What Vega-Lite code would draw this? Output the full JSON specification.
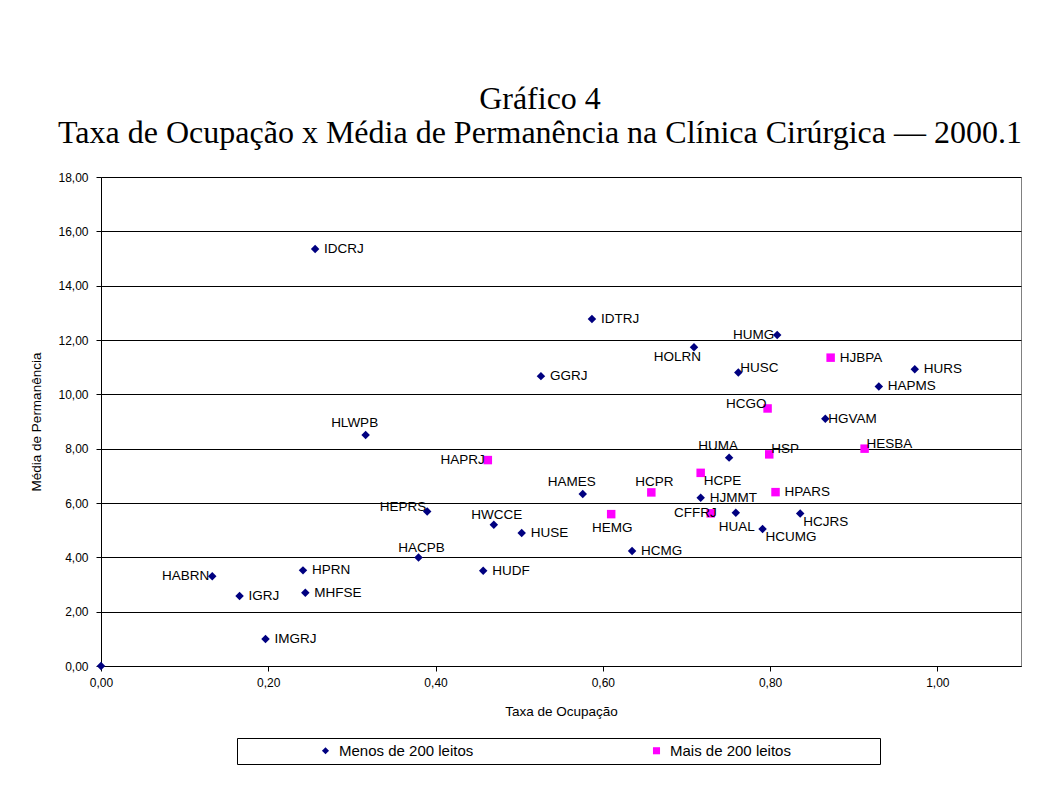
{
  "$schema": "https://vega.github.io/schema/vega-lite/v6.json",
  "autosize": {"type": "none"},
  "width": 920,
  "height": 489,
  "padding": {"left": 101, "top": 177, "right": 42, "bottom": 132},
  "background": "white",
  "config": {
    "view": {"stroke": "#808080", "strokeWidth": 1},
    "font": "Liberation Sans",
    "axis": {"labelFont": "Liberation Sans", "titleFont": "Liberation Sans", "labelColor": "black", "titleColor": "black", "domainColor": "black", "tickColor": "black", "labelFontSize": 12, "titleFontSize": 13.5, "titleFontWeight": "normal", "tickSize": 5, "labelFlush": false}
  },
  "title": {
    "text": ["Gráfico 4", "Taxa de Ocupação x Média de Permanência na Clínica Cirúrgica — 2000.1"],
    "font": "Liberation Serif",
    "fontSize": 32,
    "fontWeight": "normal",
    "color": "black",
    "anchor": "middle",
    "dx": -21,
    "offset": 21,
    "lineHeight": 34
  },
  "data": {
    "values": [
      {"nome": "", "taxa": 0.0, "media": 0.0, "grupo": "Menos de 200 leitos"},
      {"nome": "IDCRJ", "taxa": 0.256, "media": 15.35, "grupo": "Menos de 200 leitos"},
      {"nome": "IDTRJ", "taxa": 0.587, "media": 12.77, "grupo": "Menos de 200 leitos"},
      {"nome": "HOLRN", "taxa": 0.709, "media": 11.73, "grupo": "Menos de 200 leitos"},
      {"nome": "GGRJ", "taxa": 0.526, "media": 10.67, "grupo": "Menos de 200 leitos"},
      {"nome": "HUMG", "taxa": 0.8085, "media": 12.18, "grupo": "Menos de 200 leitos"},
      {"nome": "HUSC", "taxa": 0.762, "media": 10.8, "grupo": "Menos de 200 leitos"},
      {"nome": "HURS", "taxa": 0.973, "media": 10.92, "grupo": "Menos de 200 leitos"},
      {"nome": "HAPMS", "taxa": 0.93, "media": 10.29, "grupo": "Menos de 200 leitos"},
      {"nome": "HGVAM", "taxa": 0.866, "media": 9.1, "grupo": "Menos de 200 leitos"},
      {"nome": "HUMA", "taxa": 0.751, "media": 7.67, "grupo": "Menos de 200 leitos"},
      {"nome": "HJMMT", "taxa": 0.717, "media": 6.19, "grupo": "Menos de 200 leitos"},
      {"nome": "HUAL", "taxa": 0.759, "media": 5.64, "grupo": "Menos de 200 leitos"},
      {"nome": "HCJRS", "taxa": 0.836, "media": 5.61, "grupo": "Menos de 200 leitos"},
      {"nome": "HCUMG", "taxa": 0.791, "media": 5.04, "grupo": "Menos de 200 leitos"},
      {"nome": "HLWPB", "taxa": 0.3164, "media": 8.5, "grupo": "Menos de 200 leitos"},
      {"nome": "HEPRS", "taxa": 0.39, "media": 5.69, "grupo": "Menos de 200 leitos"},
      {"nome": "HWCCE", "taxa": 0.4697, "media": 5.2, "grupo": "Menos de 200 leitos"},
      {"nome": "HUSE", "taxa": 0.503, "media": 4.9, "grupo": "Menos de 200 leitos"},
      {"nome": "HACPB", "taxa": 0.3796, "media": 3.99, "grupo": "Menos de 200 leitos"},
      {"nome": "HUDF", "taxa": 0.457, "media": 3.51, "grupo": "Menos de 200 leitos"},
      {"nome": "HAMES", "taxa": 0.576, "media": 6.33, "grupo": "Menos de 200 leitos"},
      {"nome": "HCMG", "taxa": 0.635, "media": 4.23, "grupo": "Menos de 200 leitos"},
      {"nome": "HABRN", "taxa": 0.133, "media": 3.3, "grupo": "Menos de 200 leitos"},
      {"nome": "HPRN", "taxa": 0.2415, "media": 3.52, "grupo": "Menos de 200 leitos"},
      {"nome": "IGRJ", "taxa": 0.1657, "media": 2.58, "grupo": "Menos de 200 leitos"},
      {"nome": "MHFSE", "taxa": 0.2443, "media": 2.7, "grupo": "Menos de 200 leitos"},
      {"nome": "IMGRJ", "taxa": 0.1967, "media": 0.99, "grupo": "Menos de 200 leitos"},
      {"nome": "HAPRJ", "taxa": 0.4625, "media": 7.58, "grupo": "Mais de 200 leitos"},
      {"nome": "HCPE", "taxa": 0.717, "media": 7.11, "grupo": "Mais de 200 leitos"},
      {"nome": "HJBPA", "taxa": 0.8724, "media": 11.35, "grupo": "Mais de 200 leitos"},
      {"nome": "HCGO", "taxa": 0.797, "media": 9.48, "grupo": "Mais de 200 leitos"},
      {"nome": "HSP", "taxa": 0.799, "media": 7.79, "grupo": "Mais de 200 leitos"},
      {"nome": "HESBA", "taxa": 0.913, "media": 8.0, "grupo": "Mais de 200 leitos"},
      {"nome": "HPARS", "taxa": 0.8065, "media": 6.4, "grupo": "Mais de 200 leitos"},
      {"nome": "CFFRJ", "taxa": 0.729, "media": 5.62, "grupo": "Mais de 200 leitos"},
      {"nome": "HCPR", "taxa": 0.658, "media": 6.39, "grupo": "Mais de 200 leitos"},
      {"nome": "HEMG", "taxa": 0.61, "media": 5.59, "grupo": "Mais de 200 leitos"}
    ]
  },
  "encoding": {
    "x": {
      "field": "taxa", "type": "quantitative",
      "scale": {"domain": [0, 1.1], "nice": false, "zero": true},
      "axis": {"title": "Taxa de Ocupação", "values": [0, 0.2, 0.4, 0.6, 0.8, 1.0], "grid": false, "labelExpr": "replace(format(datum.value, '.2f'), '.', ',')", "labelPadding": 6, "titlePadding": 16}
    },
    "y": {
      "field": "media", "type": "quantitative",
      "scale": {"domain": [0, 18], "nice": false},
      "axis": {"title": "Média de Permanência", "values": [0, 2, 4, 6, 8, 10, 12, 14, 16, 18], "grid": true, "gridColor": "black", "gridOpacity": 1, "gridWidth": 1, "labelExpr": "replace(format(datum.value, '.2f'), '.', ',')", "labelPadding": 8, "titlePadding": 14}
    }
  },
  "layer": [
    {
      "mark": {"type": "point", "filled": true, "opacity": 1, "size": 72},
      "encoding": {
        "color": {"field": "grupo", "type": "nominal", "scale": {"domain": ["Menos de 200 leitos", "Mais de 200 leitos"], "range": ["#000080", "#FF00FF"]},
          "legend": {"title": " ", "titleOrient": "right", "titlePadding": 84, "titleFontSize": 11, "orient": "none", "legendX": 136, "legendY": 561, "direction": "horizontal", "strokeColor": "black", "padding": 5, "symbolOffset": 76, "labelFontSize": 15, "labelFont": "Liberation Sans", "labelColor": "black", "symbolSize": 50, "columnPadding": 99, "labelOffset": 6}},
        "shape": {"field": "grupo", "type": "nominal", "scale": {"domain": ["Menos de 200 leitos", "Mais de 200 leitos"], "range": ["diamond", "square"]},
          "legend": {"title": " ", "titleOrient": "right", "titlePadding": 84, "titleFontSize": 11, "orient": "none", "legendX": 136, "legendY": 561, "direction": "horizontal", "strokeColor": "black", "padding": 5, "symbolOffset": 76, "labelFontSize": 15, "labelFont": "Liberation Sans", "labelColor": "black", "symbolSize": 50, "columnPadding": 99, "labelOffset": 6}}
      }
    },
    {
      "transform": [{"filter": {"field": "nome", "oneOf": ["IDCRJ", "IDTRJ", "GGRJ", "HJBPA", "HURS", "HAPMS", "HJMMT", "HPARS", "HUSE", "HCMG", "HUDF", "IGRJ", "HPRN", "MHFSE", "IMGRJ"]}}],
      "mark": {"type": "text", "align": "left", "baseline": "middle", "dx": 9, "dy": 0, "fontSize": 13.5, "font": "Liberation Sans", "color": "black"},
      "encoding": {"text": {"field": "nome"}}
    },
    {
      "transform": [{"filter": {"field": "nome", "oneOf": ["HGVAM"]}}],
      "mark": {"type": "text", "align": "left", "baseline": "middle", "dx": 3, "dy": 0, "fontSize": 13.5, "font": "Liberation Sans", "color": "black"},
      "encoding": {"text": {"field": "nome"}}
    },
    {
      "transform": [{"filter": {"field": "nome", "oneOf": ["HUSC", "HSP", "HESBA"]}}],
      "mark": {"type": "text", "align": "left", "baseline": "middle", "dx": 2, "dy": -5, "fontSize": 13.5, "font": "Liberation Sans", "color": "black"},
      "encoding": {"text": {"field": "nome"}}
    },
    {
      "transform": [{"filter": {"field": "nome", "oneOf": ["HCJRS", "HCPE", "HCUMG"]}}],
      "mark": {"type": "text", "align": "left", "baseline": "middle", "dx": 3, "dy": 8, "fontSize": 13.5, "font": "Liberation Sans", "color": "black"},
      "encoding": {"text": {"field": "nome"}}
    },
    {
      "transform": [{"filter": {"field": "nome", "oneOf": ["HUMG", "HAPRJ", "HABRN"]}}],
      "mark": {"type": "text", "align": "right", "baseline": "middle", "dx": -3, "dy": 0, "fontSize": 13.5, "font": "Liberation Sans", "color": "black"},
      "encoding": {"text": {"field": "nome"}}
    },
    {
      "transform": [{"filter": {"field": "nome", "oneOf": ["HCGO", "HEPRS"]}}],
      "mark": {"type": "text", "align": "right", "baseline": "middle", "dx": -1, "dy": -4, "fontSize": 13.5, "font": "Liberation Sans", "color": "black"},
      "encoding": {"text": {"field": "nome"}}
    },
    {
      "transform": [{"filter": {"field": "nome", "oneOf": ["CFFRJ"]}}],
      "mark": {"type": "text", "align": "right", "baseline": "middle", "dx": 6, "dy": 0, "fontSize": 13.5, "font": "Liberation Sans", "color": "black"},
      "encoding": {"text": {"field": "nome"}}
    },
    {
      "transform": [{"filter": {"field": "nome", "oneOf": ["HLWPB", "HAMES", "HUMA"]}}],
      "mark": {"type": "text", "align": "center", "baseline": "middle", "dx": -11, "dy": -12, "fontSize": 13.5, "font": "Liberation Sans", "color": "black"},
      "encoding": {"text": {"field": "nome"}}
    },
    {
      "transform": [{"filter": {"field": "nome", "oneOf": ["HCPR", "HACPB", "HWCCE"]}}],
      "mark": {"type": "text", "align": "center", "baseline": "middle", "dx": 3, "dy": -10, "fontSize": 13.5, "font": "Liberation Sans", "color": "black"},
      "encoding": {"text": {"field": "nome"}}
    },
    {
      "transform": [{"filter": {"field": "nome", "oneOf": ["HOLRN"]}}],
      "mark": {"type": "text", "align": "right", "baseline": "middle", "dx": 7, "dy": 10, "fontSize": 13.5, "font": "Liberation Sans", "color": "black"},
      "encoding": {"text": {"field": "nome"}}
    },
    {
      "transform": [{"filter": {"field": "nome", "oneOf": ["HEMG", "HUAL"]}}],
      "mark": {"type": "text", "align": "center", "baseline": "middle", "dx": 1, "dy": 14, "fontSize": 13.5, "font": "Liberation Sans", "color": "black"},
      "encoding": {"text": {"field": "nome"}}
    }
  ]
}
